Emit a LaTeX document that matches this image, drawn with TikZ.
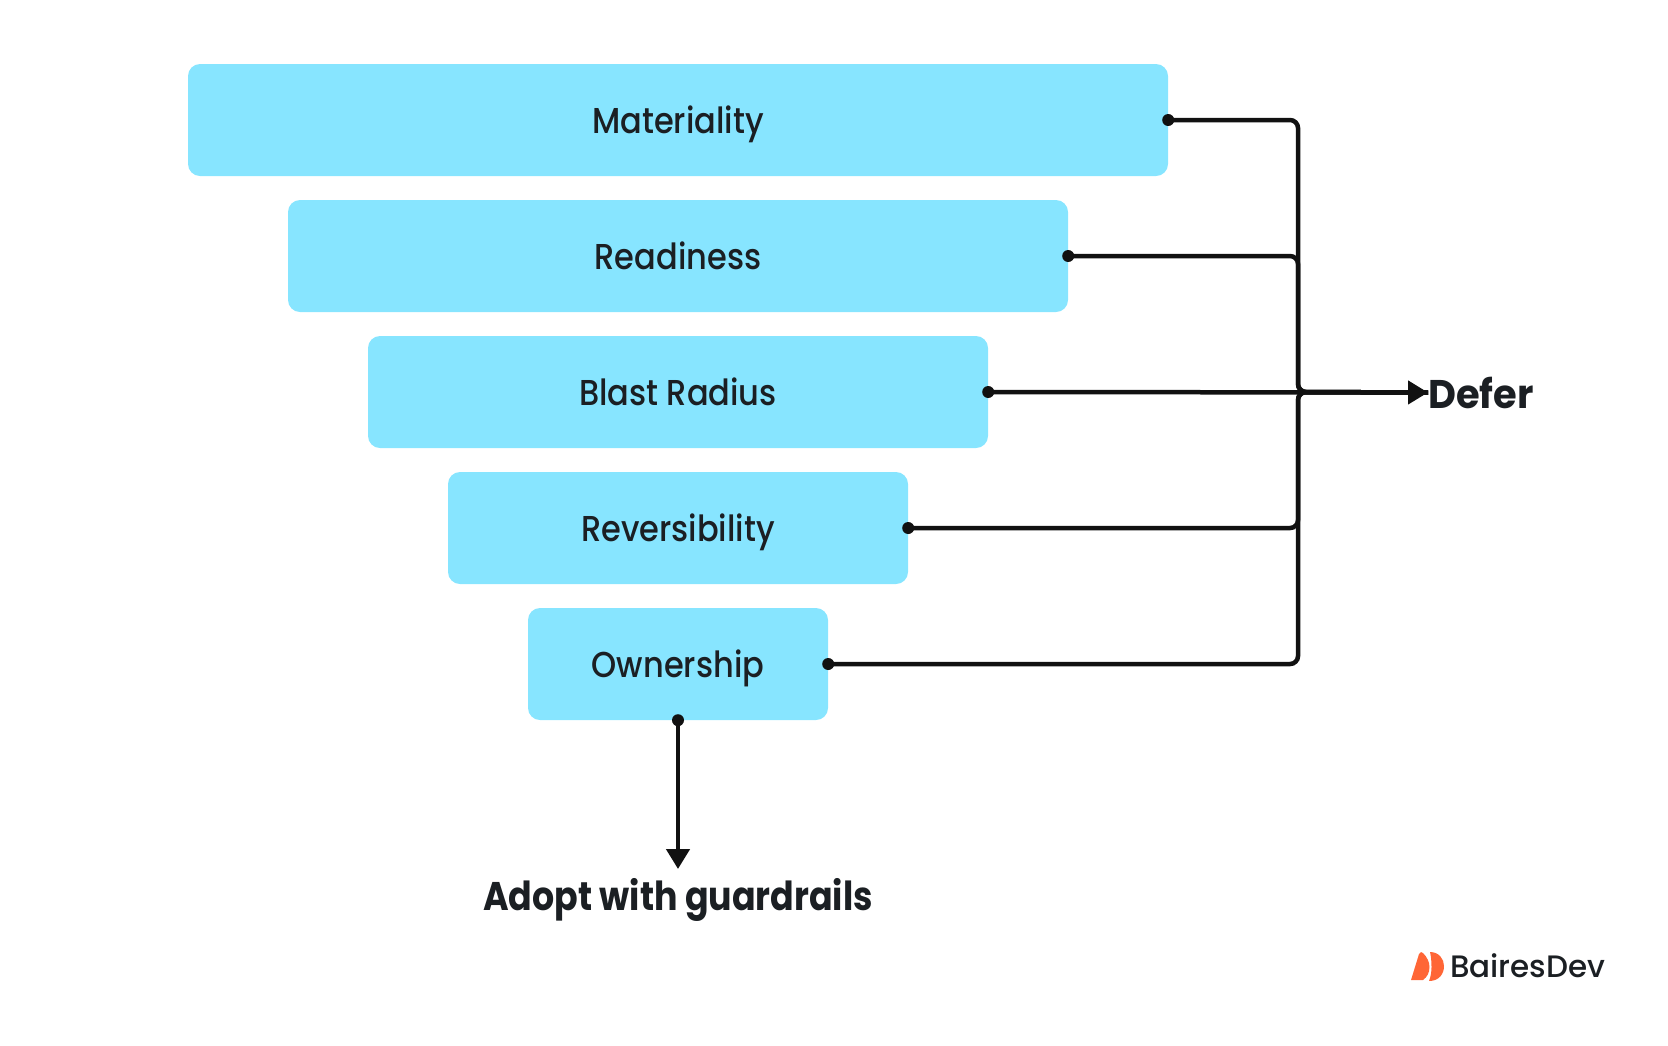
\documentclass[tikz,border=0pt]{standalone}
\usepackage{fontspec}
\usetikzlibrary{arrows.meta}
\setmainfont{Poppins}
\newfontfamily\medfont[FakeStretch=0.89]{Poppins Medium}
\newfontfamily\logofont{Poppins Medium}
\newfontfamily\adoptfont[FakeStretch=0.87]{Poppins Bold}
\newfontfamily\deferfont[FakeStretch=0.96]{Poppins Bold}
\definecolor{boxblue}{HTML}{87E5FF}
\definecolor{ink}{HTML}{1B1F23}
\definecolor{wire}{HTML}{111111}
\definecolor{logoorange}{HTML}{FF6636}
\tikzset{
  tier/.style={fill=boxblue,rounded corners=12pt,minimum height=112pt,inner sep=0pt,text height=26pt,text depth=0pt,text=ink,font=\medfont\fontsize{36}{42}\selectfont},
  result/.style={inner sep=0pt,text=ink},
  wirepath/.style={draw=wire,line width=4.5pt,rounded corners=8pt},
  tip/.style={-{Triangle[length=20pt,width=23pt]}},
  pin/.style={fill=wire}
}
\begin{document}
\begin{tikzpicture}[x=1pt,y=-1pt]
\useasboundingbox (0,0) rectangle (1668,1045);
\node[tier,minimum width=980pt] (b1) at (678,120) {Materiality};
\node[tier,minimum width=780pt] (b2) at (678,256) {Readiness};
\node[tier,minimum width=620pt] (b3) at (678,392) {Blast Radius};
\node[tier,minimum width=460pt] (b4) at (678,528) {Reversibility};
\node[tier,minimum width=300pt] (b5) at (678,664) {Ownership};
\coordinate (bus) at (1298,392);
\node[result,anchor=base west,font=\deferfont\fontsize{40}{46}\selectfont] (defer) at (1428,408) {Defer};
\node[result,anchor=base,font=\adoptfont\fontsize{40}{46}\selectfont] (adopt) at (678,910) {Adopt with guardrails};
\coordinate (defertip) at (1428,392.5);
\coordinate (adopttip) at (678,869);
\draw[wirepath] (b1.east) -| (bus) -- (defertip);
\draw[wirepath] (b2.east) -| (bus) -- (defertip);
\draw[wirepath] (b4.east) -| (bus) -- (defertip);
\draw[wirepath] (b5.east) -| (bus) -- (defertip);
\draw[wirepath,tip] (b3.east) -- (defertip);
\draw[wirepath,tip] (b5.south) -- (adopttip);
\foreach \b in {b1.east,b2.east,b3.east,b4.east,b5.east,b5.south}
  \fill[pin] (\b) circle (6pt);
\fill[logoorange] (1411,980) -- (1419,954) .. controls (1420,951.5) and (1422,951.5) .. (1423,953) .. controls (1427,957) and (1429.5,962) .. (1429.5,967) .. controls (1429.5,973) and (1427,977) .. (1423,980) -- cycle;
\fill[logoorange] (1430,952) .. controls (1439,952) and (1444,959) .. (1444,966) .. controls (1444,974) and (1439,981) .. (1429,981) .. controls (1431,976) and (1431.5,971) .. (1431.5,967) .. controls (1431.5,961) and (1431,956) .. (1430,952) -- cycle;
\node[inner sep=0pt,anchor=base west,text=ink,font=\logofont\fontsize{31}{36}\selectfont] (logo) at (1450,977) {BairesDev};
\end{tikzpicture}
\end{document}
